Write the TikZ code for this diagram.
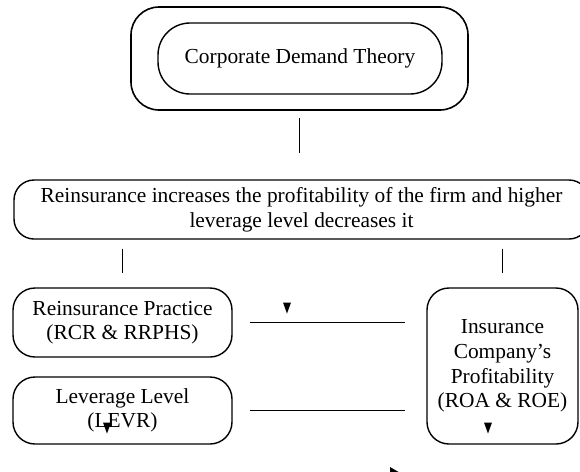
\documentclass[tikz,border=0pt]{standalone}
\usepackage{fontspec}
\setmainfont{Liberation Serif}
\usetikzlibrary{positioning}

\begin{document}
\begin{tikzpicture}[x=0.5pt, y=-0.5pt,
        box/.style={rectangle, draw, line width=0.7pt, rounded corners=11pt, align=center, inner sep=0pt, font=\fontsize{10.7}{12.3}\selectfont},
        link/.style={draw, line width=0.7pt},
        tip/.style={fill=black}
    ]
        \clip (0,0) rectangle (580,472);

        \node[box, rounded corners=14pt, minimum width=168.5pt, minimum height=51.5pt, line width=0.8pt] (frame) at (299.5,58.5) {};
        \node[box, rounded corners=16pt, minimum width=142pt, minimum height=35.5pt] (theory) at (300,58.5) {Corporate Demand Theory};
        \node[box, rounded corners=10pt, minimum width=287.5pt, minimum height=29.5pt] (hypo) at (301.5,209.5) {Reinsurance increases the profitability of the firm and higher\\leverage level decreases it};
        \node[box, minimum width=109.5pt, minimum height=34.5pt] (reins) at (122.5,322.5) {Reinsurance Practice\\(RCR \& RRPHS)};
        \node[box, minimum width=109.5pt, minimum height=33.5pt] (lever) at (122.5,410.5) {Leverage Level\\(LEVR)};
        \node[box, minimum width=75.5pt, minimum height=78pt] (profit) at (502.5,366) {Insurance\\Company's\\Profitability\\(ROA \& ROE)};

        \draw[link, shorten <=3.5pt, shorten >=13pt] (frame.south) -- (hypo.north -| frame.south);
        \draw[link, shorten <=4.5pt, shorten >=7pt] (hypo.south -| reins.north) -- (reins.north);
        \draw[link, shorten <=4.5pt, shorten >=7pt] (hypo.south -| profit.north) -- (profit.north);
        \draw[link, shorten <=8.5pt, shorten >=10.5pt] (reins.east) -- (reins.east -| profit.west);
        \draw[link, shorten <=8.5pt, shorten >=10.5pt] (lever.east) -- (lever.east -| profit.west);

        \fill[tip] (283,302.5) -- (291,302.5) -- (287,313.5) -- cycle;
        \fill[tip] (103,422.5) -- (111,422.5) -- (107,433.5) -- cycle;
        \fill[tip] (484,422.5) -- (492,422.5) -- (488,433.5) -- cycle;
        \fill[tip] (390,467) -- (390,481) -- (402,474) -- cycle;
    \end{tikzpicture}
\end{document}
